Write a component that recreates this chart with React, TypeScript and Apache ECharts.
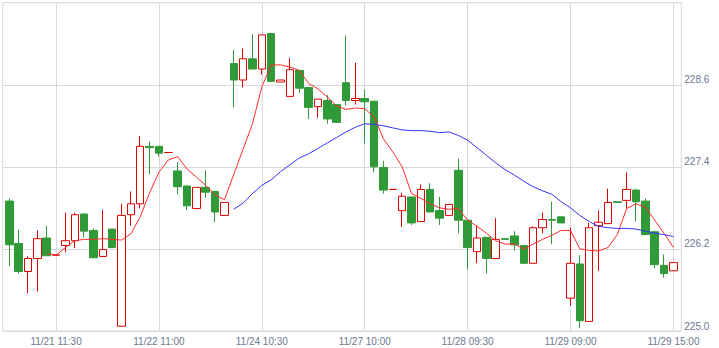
import { useEffect, useRef } from 'react';
import * as echarts from 'echarts';

const days = ['11/21', '11/22', '11/24', '11/27', '11/28', '11/29'];
const times = ['09:00', '09:30', '10:00', '10:30', '11:00', '11:30', '12:00', '13:00', '13:30', '14:00', '14:30', '15:00'];
const categories = days.flatMap((d) => times.map((t) => `${d} ${t}`));
const labelIndices = [5, 16, 27, 38, 49, 60, 71];

const opens = [
  226.90, 226.28, 225.87, 226.06, 226.36, 226.11, 226.25, 226.32, 226.71, 226.47, 226.09, 226.49,
  225.07, 226.70, 226.86, 227.70, 227.70, 227.61, 227.34, 227.12, 226.79, 227.10, 227.04, 226.69,
  228.91, 228.67, 228.98, 228.83, 229.35, 228.64, 228.43, 228.81, 228.56, 228.28, 228.37, 228.31,
  228.63, 228.37, 228.40, 228.36, 227.39, 227.07, 226.76, 226.96, 226.60, 227.07, 226.76, 226.69,
  227.35, 226.62, 226.16, 226.37, 226.06, 226.35, 226.39, 226.25, 225.99, 226.51, 226.63, 226.67,
  225.48, 225.98, 225.14, 226.54, 226.57, 226.89, 226.91, 227.06, 226.90, 226.45, 225.96, 225.88,
];
const closes = [
  226.26, 225.87, 226.06, 226.35, 226.10, 226.11, 226.32, 226.70, 226.46, 226.07, 226.19, 226.22,
  226.69, 226.86, 227.70, 227.68, 227.60, 227.61, 227.11, 226.83, 227.10, 227.03, 226.74, 226.88,
  228.67, 228.98, 228.83, 229.33, 228.65, 228.67, 228.82, 228.55, 228.27, 228.39, 228.10, 228.05,
  228.37, 228.40, 228.35, 227.40, 227.06, 227.07, 226.97, 226.58, 227.07, 226.74, 226.65, 226.85,
  226.62, 226.22, 226.36, 226.06, 226.34, 226.34, 226.26, 225.99, 226.51, 226.63, 226.62, 226.58,
  225.99, 225.15, 226.51, 226.59, 226.88, 226.88, 227.07, 226.89, 226.41, 225.97, 225.84, 226.00,
];
const lows = [
  225.95, 225.84, 225.55, 225.58, 226.10, 226.11, 226.15, 226.21, 226.37, 226.07, 226.09, 226.22,
  225.07, 226.54, 226.79, 227.29, 227.55, 227.61, 227.00, 226.77, 226.79, 226.95, 226.59, 226.69,
  228.27, 228.56, 228.83, 228.75, 228.65, 228.64, 228.43, 228.48, 228.10, 228.12, 228.03, 228.05,
  228.30, 228.31, 227.74, 227.32, 227.01, 227.07, 226.52, 226.55, 226.60, 226.74, 226.55, 226.69,
  226.43, 225.90, 225.99, 225.84, 226.06, 226.34, 226.18, 225.99, 225.99, 226.43, 226.27, 226.58,
  225.37, 225.04, 225.14, 225.88, 226.57, 226.88, 226.79, 226.60, 226.40, 225.92, 225.78, 225.88,
];
const highs = [
  226.94, 226.48, 226.09, 226.47, 226.54, 226.11, 226.73, 226.73, 226.72, 226.50, 226.77, 226.49,
  226.86, 227.04, 227.85, 227.77, 227.70, 227.61, 227.47, 227.13, 227.10, 227.35, 227.05, 226.88,
  229.11, 229.13, 229.34, 229.33, 229.36, 228.67, 228.99, 228.81, 228.56, 228.39, 228.45, 228.31,
  229.32, 228.92, 228.53, 228.36, 227.49, 227.07, 227.02, 226.96, 227.14, 227.16, 226.96, 226.85,
  227.52, 226.62, 226.54, 226.37, 226.65, 226.35, 226.46, 226.25, 226.53, 226.73, 226.89, 226.67,
  226.51, 226.11, 226.58, 226.76, 227.08, 226.89, 227.32, 227.08, 226.94, 226.47, 226.12, 226.00,
];
const ma5 = [
  null, null, null, null, 226.13, 226.11, 226.22, 226.32, 226.34, 226.34, 226.35, 226.34,
  226.33, 226.42, 226.67, 227.02, 227.32, 227.50, 227.55, 227.37, 227.25, 227.13, 226.99, 226.92,
  227.29, 227.66, 228.03, 228.57, 228.89, 228.89, 228.86, 228.81, 228.62, 228.54, 228.42, 228.29,
  228.24, 228.26, 228.25, 228.13, 227.81, 227.62, 227.40, 227.01, 226.94, 226.86, 226.80, 226.78,
  226.79, 226.62, 226.53, 226.43, 226.32, 226.27, 226.27, 226.20, 226.27, 226.34, 226.40, 226.47,
  226.47, 226.20, 226.18, 226.17, 226.22, 226.41, 226.79, 226.86, 226.81, 226.62, 226.43, 226.22,
];
const ma25 = [
  null, null, null, null, null, null, null, null, null, null, null, null,
  null, null, null, null, null, null, null, null, null, null, null, null,
  226.78, 226.87, 227.01, 227.13, 227.21, 227.33, 227.43, 227.53, 227.59, 227.67, 227.75, 227.83,
  227.91, 227.98, 228.03, 228.02, 228.00, 227.97, 227.94, 227.93, 227.93, 227.92, 227.90, 227.91,
  227.86, 227.79, 227.68, 227.57, 227.46, 227.36, 227.28, 227.19, 227.11, 227.05, 227.00, 226.89,
  226.80, 226.69, 226.60, 226.53, 226.51, 226.50, 226.50, 226.49, 226.46, 226.43, 226.41, 226.38,
];

const Y_MIN = 225.0;
const Y_MAX = 229.8;
const Y_STEP = 1.2;

const GRID_COLOR = '#d9d9d9';
const LABEL_COLOR = '#6b7890';
const FONT = '"Liberation Sans", Arial, sans-serif';

export default function App() {
  const ref = useRef<HTMLDivElement>(null);
  useEffect(() => {
    if (!ref.current) return;
    const chart = echarts.init(ref.current, undefined, { renderer: 'svg' });
    const showIdx = (i: number) => labelIndices.includes(i);
    const candles = opens.map((o, i) => [o, closes[i], lows[i], highs[i]]);
    chart.setOption({
      animation: false,
      backgroundColor: '#ffffff',
      grid: [
        { left: 4.6, width: 673.5, top: 2.7, bottom: 17 },
        { left: 2.7, width: 678.6, top: 2.7, bottom: 17, show: true, borderColor: GRID_COLOR, borderWidth: 1, backgroundColor: 'transparent' },
      ],
      xAxis: [
        {
          type: 'category',
          gridIndex: 0,
          data: categories,
          boundaryGap: true,
          axisLine: { show: false },
          axisTick: { show: false },
          axisLabel: { interval: showIdx, color: LABEL_COLOR, fontSize: 10, margin: 5, fontFamily: FONT },
          splitLine: { show: true, interval: showIdx, alignWithLabel: true, lineStyle: { color: GRID_COLOR, width: 1 } },
        },
        { type: 'value', gridIndex: 1, min: 0, max: 1, show: false },
      ],
      yAxis: [
        { type: 'value', gridIndex: 0, min: Y_MIN, max: Y_MAX, show: false },
        {
          type: 'value',
          gridIndex: 1,
          min: Y_MIN,
          max: Y_MAX,
          interval: Y_STEP,
          position: 'right',
          axisLine: { show: false },
          axisTick: { show: false },
          axisLabel: {
            color: LABEL_COLOR,
            fontSize: 10,
            fontFamily: FONT,
            margin: 3,
            verticalAlign: 'bottom',
            showMaxLabel: false,
            formatter: (v: number) => v.toFixed(1),
          },
          splitLine: { show: true, lineStyle: { color: GRID_COLOR, width: 1 } },
        },
      ],
      series: [
        {
          type: 'candlestick',
          xAxisIndex: 0,
          yAxisIndex: 0,
          data: candles,
          barWidth: 8,
          itemStyle: {
            color: '#ffffff',
            color0: '#2f9a37',
            borderColor: '#dd0000',
            borderColor0: '#2f9a37',
            borderWidth: 1,
          },
        },
        {
          type: 'line',
          xAxisIndex: 0,
          yAxisIndex: 0,
          data: ma5,
          symbol: 'none',
          smooth: false,
          lineStyle: { color: '#ff2a2a', width: 1 },
          z: 3,
        },
        {
          type: 'line',
          xAxisIndex: 0,
          yAxisIndex: 0,
          data: ma25,
          symbol: 'none',
          smooth: false,
          lineStyle: { color: '#3333ff', width: 1 },
          z: 3,
        },
      ],
    });
    return () => chart.dispose();
  }, []);
  return (
    <div
      ref={ref}
      style={{ position: 'absolute', left: 0, top: 0, width: 719, height: 348, background: '#fff' }}
    />
  );
}
